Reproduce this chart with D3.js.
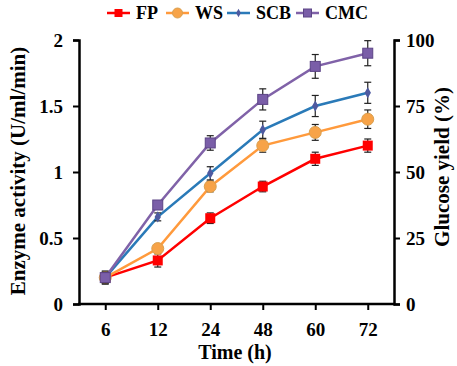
<!DOCTYPE html>
<html lang="en">
<head>
    <meta charset="UTF-8">
    <title>Enzyme activity</title>
    <script src="https://d3js.org/d3.v7.min.js"></script>
    <style>
        body { margin: 0; background: #fff; }
        text { font-family: "Liberation Serif", "Times New Roman", serif; font-weight: bold; }
    </style>
</head>
<body>
    <svg id="chart" width="457" height="366"></svg>
    <script>
        const times = ["6", "12", "24", "48", "60", "72"];
        const seriesNames = ["FP", "WS", "SCB", "CMC"];
        const fp  = [0.20, 0.33, 0.65, 0.89, 1.10, 1.20];
        const ws  = [0.20, 0.42, 0.89, 1.20, 1.30, 1.40];
        const scb = [0.20, 0.66, 0.99, 1.32, 1.50, 1.60];
        const cmc = [0.20, 0.75, 1.22, 1.55, 1.80, 1.90];
        const fpErr  = [0.05, 0.05, 0.04, 0.04, 0.05, 0.05];
        const wsErr  = [0.04, 0.02, 0.04, 0.05, 0.06, 0.07];
        const scbErr = [0.04, 0.03, 0.05, 0.065, 0.08, 0.08];
        const cmcErr = [0.04, 0.03, 0.055, 0.08, 0.09, 0.095];
        const leftTicks = [0, 0.5, 1, 1.5, 2];
        const rightTicks = [0, 25, 50, 75, 100];

        const colors = {FP: "#ff0000", WS: "#ff9a3c", SCB: "#2a7ab8", CMC: "#8062a8"};
        const values = {FP: fp, WS: ws, SCB: scb, CMC: cmc};
        const errors = {FP: fpErr, WS: wsErr, SCB: scbErr, CMC: cmcErr};

        const svg = d3.select("#chart");
        const plot = {left: 79, right: 394, top: 40, bottom: 304};

        const x = d3.scalePoint().domain(times).range([plot.left, plot.right]).padding(0.5);
        const y = d3.scaleLinear().domain([0, 2]).range([plot.bottom, plot.top]);
        const y2 = d3.scaleLinear().domain([0, 100]).range([plot.bottom, plot.top]);

        // axes
        const gl = svg.append("g").attr("transform", `translate(${plot.left},0)`)
            .call(d3.axisLeft(y).tickValues(leftTicks).tickFormat(d3.format("")).tickSizeOuter(0).tickSize(6));
        const gr = svg.append("g").attr("transform", `translate(${plot.right},0)`)
            .call(d3.axisRight(y2).tickValues(rightTicks).tickSizeOuter(0).tickSize(6));
        const gb = svg.append("g").attr("transform", `translate(0,${plot.bottom})`)
            .call(d3.axisBottom(x).tickSizeOuter(0).tickSize(6));
        gb.select(".domain").attr("d", `M${plot.left - 1},0H${plot.right + 1}`);

        [gl, gr, gb].forEach(g => {
            g.select(".domain").attr("stroke", "#000").attr("stroke-width", 2.5);
            g.selectAll(".tick line").attr("stroke", "#000").attr("stroke-width", 2);
            g.selectAll(".tick text")
                .attr("font-family", "Liberation Serif, serif")
                .attr("font-weight", "bold")
                .attr("font-size", 19)
                .attr("fill", "#000");
        });
        gl.selectAll(".tick text").attr("x", -16);
        gr.selectAll(".tick text").attr("x", 12);
        gb.selectAll(".tick text").attr("y", 19);

        // axis titles
        svg.append("text")
            .attr("transform", "translate(25,171) rotate(-90)")
            .attr("text-anchor", "middle")
            .attr("font-size", 21)
            .text("Enzyme activity (U/ml/min)");
        svg.append("text")
            .attr("transform", "translate(449,167) rotate(-90)")
            .attr("text-anchor", "middle")
            .attr("font-size", 21)
            .text("Glucose yield (%)");
        svg.append("text")
            .attr("x", 235)
            .attr("y", 359)
            .attr("text-anchor", "middle")
            .attr("font-size", 20)
            .text("Time (h)");

        function marker(g, name, size) {
            const c = colors[name];
            if (name === "FP") {
                g.append("rect").attr("x", -size).attr("y", -size).attr("width", 2 * size).attr("height", 2 * size).attr("fill", c);
            } else if (name === "WS") {
                g.append("circle").attr("r", size + 1).attr("fill", "#f7a348").attr("stroke", "#d9a050").attr("stroke-width", 1);
            } else if (name === "SCB") {
                g.append("path").attr("d", d3.symbol(d3.symbolDiamond, size * size * 2.2)()).attr("fill", "#4e5aa0");
            } else {
                g.append("rect").attr("x", -size).attr("y", -size).attr("width", 2 * size).attr("height", 2 * size)
                    .attr("fill", "#7a5ea8").attr("stroke", "#5c4486").attr("stroke-width", 1);
            }
        }

        const line = d3.line().x((d, i) => x(times[i])).y(d => y(d));

        seriesNames.forEach(name => {
            const vals = values[name], errs = errors[name];
            const g = svg.append("g");
            g.append("path").datum(vals).attr("d", line)
                .attr("fill", "none").attr("stroke", colors[name]).attr("stroke-width", 2.5);
            // error bars
            vals.forEach((v, i) => {
                const cx = x(times[i]);
                const e = errs[i];
                const eb = g.append("g").attr("stroke", "#222").attr("stroke-width", 1.2);
                eb.append("line").attr("x1", cx).attr("x2", cx).attr("y1", y(v - e)).attr("y2", y(v + e));
                eb.append("line").attr("x1", cx - 3.5).attr("x2", cx + 3.5).attr("y1", y(v - e)).attr("y2", y(v - e));
                eb.append("line").attr("x1", cx - 3.5).attr("x2", cx + 3.5).attr("y1", y(v + e)).attr("y2", y(v + e));
            });
            vals.forEach((v, i) => {
                const m = g.append("g").attr("transform", `translate(${x(times[i])},${y(v)})`);
                marker(m, name, name === "SCB" ? 4 : 5);
            });
        });

        // legend
        const legendX = [107, 166, 227, 296];
        const legend = svg.append("g").attr("transform", "translate(0,13)");
        seriesNames.forEach((name, i) => {
            const lg = legend.append("g").attr("transform", `translate(${legendX[i]},0)`);
            lg.append("line").attr("x1", 0).attr("x2", 23).attr("stroke", colors[name]).attr("stroke-width", 2.5);
            const m = lg.append("g").attr("transform", "translate(11.5,0)");
            marker(m, name, name === "SCB" ? 3 : 4);
            lg.append("text").attr("x", 29).attr("y", 6).attr("font-size", 18).text(name);
        });
    </script>
</body>
</html>
